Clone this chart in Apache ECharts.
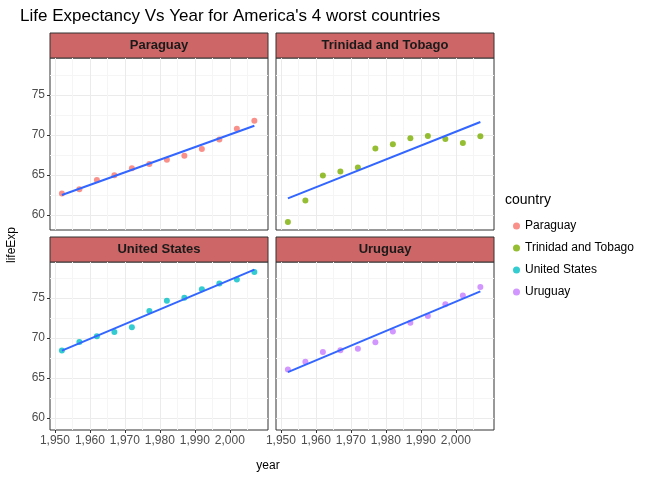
<!DOCTYPE html>
<html><head><meta charset="utf-8">
<script src="https://cdn.jsdelivr.net/npm/echarts@6/dist/echarts.min.js"></script>
<style>body{margin:0}#c{width:672px;height:480px}</style></head>
<body><div id="c"></div>
<script>
const years = [1952,1957,1962,1967,1972,1977,1982,1987,1992,1997,2002,2007];
const countries = ['Paraguay','Trinidad and Tobago','United States','Uruguay'];
const colors = ['#F8766D','#7CAE00','#00BFC4','#C77CFF'];
const paraguay = [62.65,63.20,64.36,64.95,65.82,66.35,66.87,67.38,68.23,69.40,70.76,71.75];
const trinidad = [59.10,61.80,64.90,65.40,65.90,68.30,68.83,69.58,69.86,69.47,68.98,69.82];
const usa = [68.44,69.49,70.21,70.76,71.34,73.38,74.65,75.02,76.09,76.81,77.31,78.24];
const uruguay = [66.07,67.04,68.25,68.47,68.67,69.48,70.81,71.92,72.75,74.22,75.31,76.38];
const values = [paraguay, trinidad, usa, uruguay];
const xTicks = [1950,1960,1970,1980,1990,2000];
const yTicks = [60,65,70,75];

function fit(y) {
  const n = years.length;
  const mx = years.reduce((a,b)=>a+b)/n, my = y.reduce((a,b)=>a+b)/n;
  let sxy = 0, sxx = 0;
  years.forEach((x,i)=>{ sxy += (x-mx)*(y[i]-my); sxx += (x-mx)*(x-mx); });
  const b = sxy/sxx;
  return [[1952, my + b*(1952-mx)], [2007, my + b*(2007-mx)]];
}

const panels = [
  {left:50, top:58, h:172}, {left:276, top:58, h:172},
  {left:50, top:262, h:168}, {left:276, top:262, h:168}
];
const grids = [], xAxes = [], yAxes = [], series = [], graphics = [];
panels.forEach((p,i)=>{
  grids.push({left:p.left, top:p.top, width:218, height:p.h, show:true,
    borderColor:'#333', borderWidth:1, backgroundColor:'#fff'});
  xAxes.push({type:'value', gridIndex:i, min:1948.6, max:2010.9,
    axisLine:{show:false},
    axisTick:{show:i>=2, customValues:xTicks, length:3, lineStyle:{color:'#333'}},
    axisLabel:{show:i>=2, customValues:xTicks, color:'#4d4d4d', fontSize:12, margin:5},
    splitLine:{lineStyle:{color:'#ebebeb'}},
    minorSplitLine:{show:true, lineStyle:{color:'#f5f5f5'}}, minorTick:{splitNumber:2}});
  yAxes.push({type:'value', gridIndex:i, min:i<2?58.1:58.5, max:i<2?79.6:79.5,
    axisLine:{show:false},
    axisTick:{show:i%2==0, customValues:yTicks, length:3, lineStyle:{color:'#333'}},
    axisLabel:{show:i%2==0, customValues:yTicks, color:'#4d4d4d', fontSize:12, margin:5},
    splitLine:{lineStyle:{color:'#ebebeb'}},
    minorSplitLine:{show:true, lineStyle:{color:'#f5f5f5'}}, minorTick:{splitNumber:2}});
  series.push({name:countries[i], type:'scatter', xAxisIndex:i, yAxisIndex:i,
    symbolSize:6, itemStyle:{color:colors[i]},
    data:years.map((x,k)=>[x, values[i][k]])});
  series.push({type:'line', xAxisIndex:i, yAxisIndex:i, data:fit(values[i]),
    symbol:'none', lineStyle:{color:'#3366FF', width:2}, z:3, silent:true});
  graphics.push({type:'rect', shape:{x:p.left, y:p.top-25, width:218, height:25},
    style:{fill:'#CD6666', stroke:'#333', lineWidth:1}});
  graphics.push({type:'text', x:p.left+109, y:p.top-12.5,
    style:{text:countries[i], fill:'#1a1a1a', font:'bold 13px Arial', align:'center', verticalAlign:'middle'}});
});
graphics.push({type:'text', x:20, y:8, style:{text:"Life Expectancy Vs Year for America's 4 worst countries",
  fill:'#000', font:'17px Arial'}});
graphics.push({type:'text', x:268, y:460, style:{text:'year', fill:'#000', font:'12px Arial', align:'center'}});
graphics.push({type:'text', x:12, y:245, rotation:Math.PI/2,
  style:{text:'lifeExp', fill:'#000', font:'12px Arial', align:'center', verticalAlign:'middle'}});
graphics.push({type:'text', x:505, y:193, style:{text:'country', fill:'#000', font:'14px Arial'}});

const chart = echarts.init(document.getElementById('c'));
chart.setOption({
  animation:false,
  grid:grids, xAxis:xAxes, yAxis:yAxes, series:series, graphic:graphics,
  legend:{data:countries, orient:'vertical', left:508, top:215, icon:'circle',
    itemWidth:7, itemHeight:7, itemGap:10, textStyle:{fontSize:12, color:'#000'}}
});
</script></body></html>
